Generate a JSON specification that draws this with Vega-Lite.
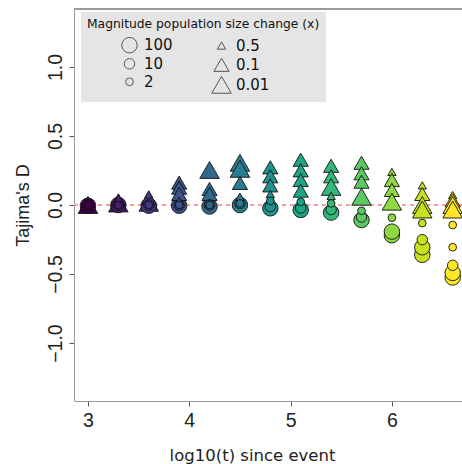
{
  "$schema": "https://vega.github.io/schema/vega-lite/v6.json",
  "width": 388,
  "height": 392,
  "autosize": {"type": "none"},
  "padding": {"left": 74, "top": 9, "right": 0, "bottom": 63},
  "config": {"view": {"stroke": null}, "axis": {"grid": false}},
  "data": {"values": [
    {"t": 3.0, "mag": "0.01", "D": 0.0}, {"t": 3.0, "mag": "100", "D": -0.005}, {"t": 3.0, "mag": "0.1", "D": 0.011}, {"t": 3.0, "mag": "10", "D": 0.0}, {"t": 3.0, "mag": "0.5", "D": 0.016}, {"t": 3.0, "mag": "2", "D": 0.0},
    {"t": 3.3, "mag": "0.01", "D": 0.011}, {"t": 3.3, "mag": "100", "D": 0.0}, {"t": 3.3, "mag": "0.1", "D": 0.033}, {"t": 3.3, "mag": "10", "D": 0.0}, {"t": 3.3, "mag": "0.5", "D": 0.049}, {"t": 3.3, "mag": "2", "D": 0.0},
    {"t": 3.6, "mag": "0.01", "D": 0.016}, {"t": 3.6, "mag": "100", "D": -0.005}, {"t": 3.6, "mag": "0.1", "D": 0.049}, {"t": 3.6, "mag": "10", "D": 0.0}, {"t": 3.6, "mag": "0.5", "D": 0.077}, {"t": 3.6, "mag": "2", "D": 0.0},
    {"t": 3.9, "mag": "0.1", "D": 0.162}, {"t": 3.9, "mag": "0.1", "D": 0.126}, {"t": 3.9, "mag": "100", "D": -0.005}, {"t": 3.9, "mag": "0.1", "D": 0.08}, {"t": 3.9, "mag": "10", "D": 0.0}, {"t": 3.9, "mag": "0.5", "D": 0.03}, {"t": 3.9, "mag": "2", "D": 0.0},
    {"t": 4.2, "mag": "0.01", "D": 0.254}, {"t": 4.2, "mag": "100", "D": -0.011}, {"t": 4.2, "mag": "0.1", "D": 0.116}, {"t": 4.2, "mag": "0.1", "D": 0.08}, {"t": 4.2, "mag": "10", "D": 0.0}, {"t": 4.2, "mag": "0.5", "D": 0.016}, {"t": 4.2, "mag": "2", "D": 0.0},
    {"t": 4.5, "mag": "0.01", "D": 0.306}, {"t": 4.5, "mag": "0.01", "D": 0.262}, {"t": 4.5, "mag": "0.1", "D": 0.16}, {"t": 4.5, "mag": "100", "D": 0.0}, {"t": 4.5, "mag": "10", "D": 0.011}, {"t": 4.5, "mag": "0.5", "D": 0.06}, {"t": 4.5, "mag": "2", "D": 0.011},
    {"t": 4.8, "mag": "0.1", "D": 0.273}, {"t": 4.8, "mag": "0.1", "D": 0.208}, {"t": 4.8, "mag": "0.1", "D": 0.142}, {"t": 4.8, "mag": "100", "D": -0.024}, {"t": 4.8, "mag": "10", "D": -0.011}, {"t": 4.8, "mag": "0.5", "D": 0.08}, {"t": 4.8, "mag": "2", "D": 0.03},
    {"t": 5.1, "mag": "0.1", "D": 0.328}, {"t": 5.1, "mag": "0.1", "D": 0.251}, {"t": 5.1, "mag": "0.1", "D": 0.181}, {"t": 5.1, "mag": "0.1", "D": 0.104}, {"t": 5.1, "mag": "100", "D": -0.036}, {"t": 5.1, "mag": "10", "D": -0.022}, {"t": 5.1, "mag": "2", "D": 0.022},
    {"t": 5.4, "mag": "0.1", "D": 0.284}, {"t": 5.4, "mag": "0.1", "D": 0.208}, {"t": 5.4, "mag": "0.01", "D": 0.131}, {"t": 5.4, "mag": "100", "D": -0.055}, {"t": 5.4, "mag": "10", "D": -0.033}, {"t": 5.4, "mag": "0.5", "D": 0.066}, {"t": 5.4, "mag": "2", "D": 0.011},
    {"t": 5.7, "mag": "0.1", "D": 0.306}, {"t": 5.7, "mag": "0.1", "D": 0.23}, {"t": 5.7, "mag": "0.1", "D": 0.169}, {"t": 5.7, "mag": "0.01", "D": 0.06}, {"t": 5.7, "mag": "100", "D": -0.109}, {"t": 5.7, "mag": "10", "D": -0.087}, {"t": 5.7, "mag": "2", "D": -0.042},
    {"t": 6.0, "mag": "0.5", "D": 0.24}, {"t": 6.0, "mag": "0.1", "D": 0.181}, {"t": 6.0, "mag": "0.1", "D": 0.109}, {"t": 6.0, "mag": "0.01", "D": 0.024}, {"t": 6.0, "mag": "100", "D": -0.219}, {"t": 6.0, "mag": "100", "D": -0.193}, {"t": 6.0, "mag": "2", "D": -0.092},
    {"t": 6.3, "mag": "0.5", "D": 0.142}, {"t": 6.3, "mag": "0.1", "D": 0.08}, {"t": 6.3, "mag": "0.01", "D": 0.0}, {"t": 6.3, "mag": "0.01", "D": -0.033}, {"t": 6.3, "mag": "100", "D": -0.361}, {"t": 6.3, "mag": "100", "D": -0.306}, {"t": 6.3, "mag": "10", "D": -0.251}, {"t": 6.3, "mag": "2", "D": -0.131},
    {"t": 6.6, "mag": "0.5", "D": 0.072}, {"t": 6.6, "mag": "0.1", "D": 0.033}, {"t": 6.6, "mag": "0.01", "D": 0.0}, {"t": 6.6, "mag": "0.01", "D": -0.033}, {"t": 6.6, "mag": "100", "D": -0.525}, {"t": 6.6, "mag": "100", "D": -0.492}, {"t": 6.6, "mag": "10", "D": -0.437}, {"t": 6.6, "mag": "2", "D": -0.306}, {"t": 6.6, "mag": "2", "D": -0.145}
  ]},
  "layer": [
    {
      "mark": {"type": "rule", "color": "#ff9a9a", "strokeDash": [4, 4], "strokeWidth": 1},
      "encoding": {"y": {"datum": 0, "type": "quantitative"}}
    },
    {
      "mark": {"type": "rule", "color": "#999999", "strokeWidth": 1},
      "encoding": {"y": {"datum": 1.42, "type": "quantitative"}}
    },
    {
      "mark": {"type": "point", "filled": true, "opacity": 1, "stroke": "#111111", "strokeWidth": 0.9},
      "encoding": {
        "x": {"field": "t", "type": "quantitative",
          "scale": {"domain": [2.862, 6.692], "nice": false, "zero": false},
          "axis": {"values": [3, 4, 5, 6], "title": "log10(t) since event", "labelFont": "Liberation Sans", "labelFontSize": 19.5, "labelColor": "#222222", "labelPadding": 5, "tickSize": 5, "tickColor": "#555555", "domainColor": "#999999", "titleFont": "DejaVu Sans", "titleFontSize": 16.5, "titleFontWeight": "normal", "titleColor": "#222222", "titleX": 178, "titleY": 59, "titleBaseline": "alphabetic", "titleAlign": "center"}},
        "y": {"field": "D", "type": "quantitative",
          "scale": {"domain": [-1.42, 1.42], "nice": false, "zero": false},
          "axis": {"values": [-1, -0.5, 0, 0.5, 1], "format": ".1f", "title": "Tajima's D", "labelFont": "Liberation Sans", "labelFontSize": 19.5, "labelColor": "#222222", "labelAngle": 270, "labelAlign": "center", "labelBaseline": "alphabetic", "labelPadding": 8, "tickSize": 5, "tickColor": "#555555", "domainColor": "#999999", "titleFont": "Liberation Sans", "titleFontSize": 18, "titleFontWeight": "normal", "titleColor": "#222222", "titleX": -51, "titleY": 196, "titleAngle": 270, "titleAlign": "center", "titleBaseline": "middle"}},
        "color": {"field": "t", "type": "quantitative", "scale": {"scheme": "viridis", "domain": [3, 6.6]}, "legend": null},
        "shape": {"field": "mag", "type": "nominal",
          "scale": {"type": "ordinal", "domain": ["100", "10", "2", "0.5", "0.1", "0.01"], "range": ["circle", "circle", "circle", "triangle-up", "triangle-up", "triangle-up"]},
          "legend": {"orient": "none", "legendX": 7, "legendY": 3, "fillColor": "#e5e5e5", "padding": 6, "columns": 2, "columnPadding": 6, "rowPadding": 0, "title": "Magnitude population size change (x)", "titleLimit": 400, "titleFont": "DejaVu Sans", "titleFontSize": 12.3, "titleFontWeight": "normal", "titleColor": "#111111", "titlePadding": 6, "labelFont": "DejaVu Sans", "labelFontSize": 15, "labelColor": "#111111", "symbolFillColor": "transparent", "symbolStrokeColor": "#555555", "symbolStrokeWidth": 1, "symbolOffset": 32}},
        "size": {"field": "mag", "type": "nominal",
          "scale": {"type": "ordinal", "domain": ["100", "10", "2", "0.5", "0.1", "0.01"], "range": [240, 110, 60, 70, 230, 380]},
          "legend": {"orient": "none", "legendX": 7, "legendY": 3, "fillColor": "#e5e5e5", "padding": 6, "columns": 2, "columnPadding": 6, "rowPadding": 0, "title": "Magnitude population size change (x)", "titleLimit": 400, "titleFont": "DejaVu Sans", "titleFontSize": 12.3, "titleFontWeight": "normal", "titleColor": "#111111", "titlePadding": 6, "labelFont": "DejaVu Sans", "labelFontSize": 15, "labelColor": "#111111", "symbolFillColor": "transparent", "symbolStrokeColor": "#555555", "symbolStrokeWidth": 1, "symbolOffset": 32}}
      }
    }
  ]
}
